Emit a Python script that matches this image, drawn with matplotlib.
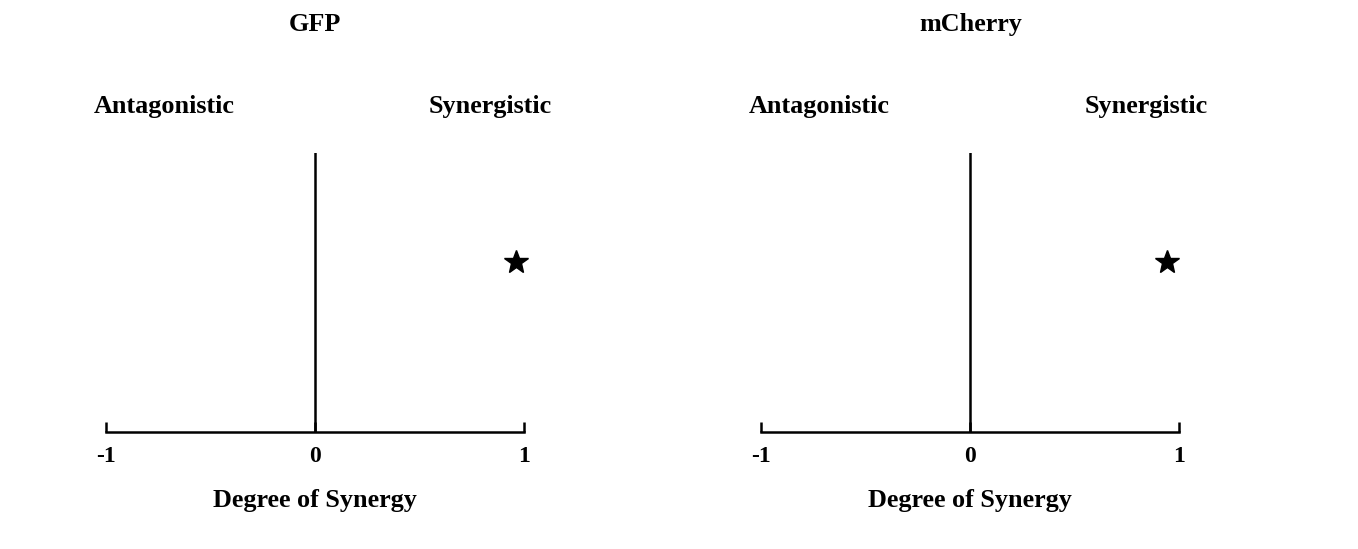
import matplotlib.pyplot as plt

# datos
paneles = ["GFP", "mCherry"]
sinergia_x = [0.96, 0.94]
posicion_y = [0.61, 0.61]
ticks_x = [-1, 0, 1]
etiquetas_x = ["-1", "0", "1"]

plt.rcParams['font.family'] = ['Liberation Serif', 'DejaVu Serif']
plt.rcParams['font.weight'] = 'bold'

fig = plt.figure(figsize=(13.58, 5.49), dpi=100)
izquierdas = [0.078, 0.5605]

for i, nombre in enumerate(paneles):
    ax = fig.add_axes([izquierdas[i], 0.213, 0.308, 0.508])
    ax.set_xlim(-1, 1)
    ax.set_ylim(0, 1)
    ax.axvline(0, color='black', lw=1.8, ymin=0, ymax=1)
    ax.plot([sinergia_x[i]], [posicion_y[i]], marker='*', color='black',
            ms=18, ls='none', clip_on=False)
    for lado in ['top', 'right', 'left']:
        ax.spines[lado].set_visible(False)
    ax.spines['bottom'].set_linewidth(1.8)
    ax.set_yticks([])
    ax.set_xticks(ticks_x)
    ax.set_xticklabels(etiquetas_x, fontsize=17, fontweight='bold')
    ax.tick_params(axis='x', direction='in', length=7, width=1.8, pad=10)
    ax.set_xlabel("Degree of Synergy", fontsize=18.8, fontweight='bold', labelpad=16)
    ax.text(0.5, 1.0 + 0.235 / 0.508, nombre, transform=ax.transAxes,
            ha='center', va='center', fontsize=18.8, fontweight='bold')
    ax.text(-0.72, 1.0 + 0.085 / 0.508, "Antagonistic", transform=ax.transData,
            ha='center', va='center', fontsize=18.8, fontweight='bold')
    ax.text(0.84, 1.0 + 0.085 / 0.508, "Synergistic", transform=ax.transData,
            ha='center', va='center', fontsize=18.8, fontweight='bold')

fig.savefig("out.png", dpi=100)
